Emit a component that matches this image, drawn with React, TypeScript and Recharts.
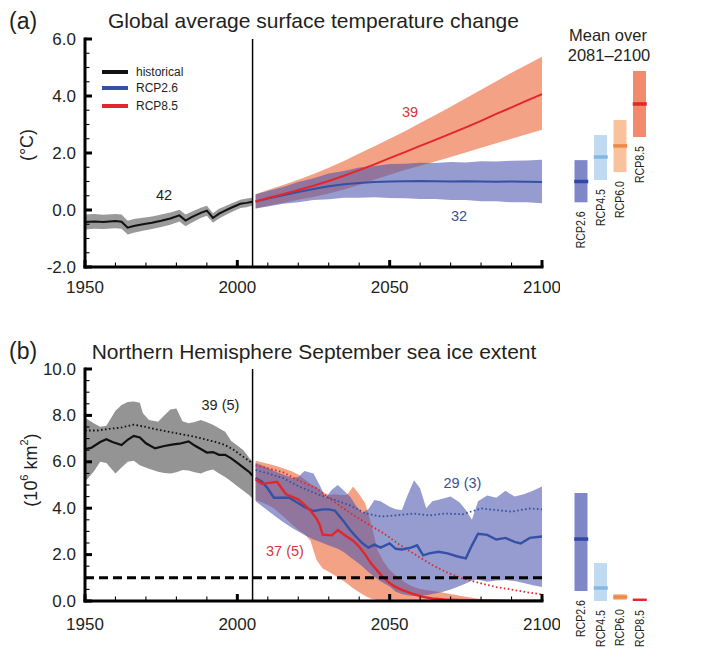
import React from 'react';
import {
  ComposedChart,
  Area,
  Line,
  Bar,
  Scatter,
  Cell,
  LabelList,
  XAxis,
  YAxis,
  ReferenceLine,
} from 'recharts';

const FONT = '"Liberation Sans", Arial, Helvetica, sans-serif';
const INK = '#231f20';

// ---- shared axes ----
const X_TICKS = [1950, 1960, 1970, 1980, 1990, 2000, 2010, 2020, 2030, 2040, 2050, 2060, 2070, 2080, 2090, 2100];
const X_MAJORS = [1950, 2000, 2050, 2100];
const A_Y_TICKS = [-2, -1.5, -1, -0.5, 0, 0.5, 1, 1.5, 2, 2.5, 3, 3.5, 4, 4.5, 5, 5.5, 6];
const A_Y_MAJORS = [-2, 0, 2, 4, 6];
const B_Y_TICKS = [0, 0.5, 1, 1.5, 2, 2.5, 3, 3.5, 4, 4.5, 5, 5.5, 6, 6.5, 7, 7.5, 8, 8.5, 9, 9.5, 10];
const B_Y_MAJORS = [0, 2, 4, 6, 8, 10];

// ---- (a) global average surface temperature change (°C) ----
const A_HIST_YEARS = [1950, 1953, 1956, 1960, 1962, 1964, 1966, 1969, 1972, 1975, 1978, 1981, 1983, 1985, 1988, 1990, 1992, 1994, 1996, 1998, 2001, 2003, 2005];
const A_HIST_MEAN = [-0.42, -0.4, -0.42, -0.39, -0.41, -0.62, -0.56, -0.5, -0.45, -0.38, -0.3, -0.19, -0.37, -0.25, -0.1, -0.02, -0.28, -0.13, -0.02, 0.08, 0.22, 0.25, 0.29];
const A_HIST_LO = [-0.68, -0.66, -0.67, -0.64, -0.66, -0.86, -0.8, -0.73, -0.67, -0.6, -0.52, -0.4, -0.57, -0.45, -0.28, -0.2, -0.45, -0.3, -0.18, -0.08, 0.07, 0.1, 0.16];
const A_HIST_HI = [-0.16, -0.14, -0.17, -0.14, -0.16, -0.38, -0.32, -0.27, -0.23, -0.16, -0.09, 0.01, -0.16, -0.06, 0.08, 0.15, -0.11, 0.04, 0.13, 0.23, 0.36, 0.4, 0.43];

const A_PROJ_YEARS = [2006, 2010, 2015, 2020, 2025, 2030, 2035, 2040, 2045, 2050, 2055, 2060, 2065, 2070, 2075, 2080, 2085, 2090, 2095, 2100];
const A26_MEAN = [0.3, 0.4, 0.52, 0.63, 0.74, 0.83, 0.9, 0.95, 0.98, 1.0, 1.01, 1.02, 1.01, 1.0, 1.01, 1.0, 0.99, 1.0, 0.99, 0.98];
const A26_LO = [0.05, 0.12, 0.22, 0.27, 0.35, 0.38, 0.43, 0.43, 0.45, 0.42, 0.41, 0.39, 0.39, 0.35, 0.35, 0.31, 0.31, 0.27, 0.27, 0.24];
const A26_HI = [0.55, 0.67, 0.81, 0.98, 1.11, 1.28, 1.37, 1.49, 1.54, 1.61, 1.62, 1.66, 1.65, 1.68, 1.67, 1.71, 1.7, 1.73, 1.74, 1.76];
const A85_MEAN = [0.3, 0.42, 0.55, 0.7, 0.85, 1.02, 1.2, 1.4, 1.6, 1.82, 2.03, 2.25, 2.46, 2.68, 2.9, 3.13, 3.37, 3.6, 3.84, 4.06];
const A85_LO = [0.05, 0.15, 0.25, 0.36, 0.46, 0.58, 0.72, 0.88, 1.06, 1.24, 1.4, 1.55, 1.7, 1.86, 2.02, 2.18, 2.34, 2.5, 2.66, 2.82];
const A85_HI = [0.55, 0.7, 0.88, 1.06, 1.26, 1.48, 1.72, 1.98, 2.24, 2.5, 2.76, 3.05, 3.33, 3.62, 3.92, 4.22, 4.52, 4.82, 5.1, 5.38];

// ---- (b) NH September sea ice extent (10^6 km2) ----
const B_HIST_YEARS = [1950, 1952, 1955, 1957, 1959, 1962, 1964, 1966, 1968, 1970, 1973, 1976, 1979, 1981, 1984, 1986, 1988, 1990, 1992, 1994, 1996, 1998, 2000, 2002, 2004, 2005];
const B_HIST_MEAN = [6.55, 6.6, 6.85, 6.97, 6.85, 6.72, 6.95, 7.12, 7.05, 6.8, 6.58, 6.68, 6.75, 6.78, 6.88, 6.7, 6.55, 6.4, 6.42, 6.3, 6.3, 6.15, 5.95, 5.75, 5.55, 5.4];
const B_HIST_DOT_YEARS = [1950, 1954, 1958, 1962, 1966, 1970, 1974, 1978, 1982, 1986, 1990, 1993, 1996, 1999, 2001, 2003, 2005];
const B_HIST_DOT = [7.35, 7.35, 7.42, 7.48, 7.6, 7.5, 7.38, 7.28, 7.18, 7.08, 6.95, 6.85, 6.72, 6.5, 6.3, 6.12, 5.93];
const B_HIST_BAND_YEARS = [1950, 1953, 1955, 1957, 1960, 1962, 1964, 1966, 1968, 1969, 1971, 1974, 1976, 1978, 1980, 1982, 1984, 1986, 1988, 1990, 1992, 1994, 1996, 1998, 2000, 2002, 2004, 2005];
const B_HIST_HI = [7.9, 7.65, 7.51, 7.55, 8.2, 8.45, 8.58, 8.6, 8.55, 8.09, 7.8, 7.73, 8.0, 8.25, 8.3, 7.75, 7.66, 7.72, 7.8, 7.7, 7.6, 7.45, 7.3, 6.9, 6.7, 6.5, 6.15, 6.0];
const B_HIST_LO = [5.14, 5.6, 6.0, 5.95, 5.5, 5.75, 6.0, 6.05, 5.85, 5.8, 5.7, 5.57, 5.52, 5.5, 5.55, 5.65, 5.62, 5.55, 5.5, 5.6, 5.67, 5.5, 5.35, 5.15, 4.95, 4.75, 4.55, 4.42];

const B26_YEARS = [2006, 2008, 2010, 2012, 2014, 2017, 2019, 2022, 2025, 2028, 2030, 2032, 2035, 2037, 2039, 2041, 2043, 2045, 2047, 2050, 2052, 2054, 2057, 2059, 2061, 2063, 2066, 2069, 2072, 2075, 2077, 2079, 2082, 2085, 2088, 2091, 2093, 2096, 2100];
const B26_MEAN = [5.3, 5.15, 4.85, 4.45, 4.45, 4.45, 4.3, 4.05, 3.88, 3.95, 3.95, 3.9, 3.42, 3.06, 2.77, 2.5, 2.3, 2.43, 2.3, 2.48, 2.25, 2.22, 2.3, 2.4, 1.97, 2.05, 2.12, 2.05, 1.93, 1.84, 2.4, 2.9, 2.85, 2.65, 2.72, 2.55, 2.48, 2.72, 2.78];
const B26_DOT_YEARS = [2006, 2010, 2015, 2020, 2026, 2031, 2037, 2042, 2047, 2052, 2058, 2063, 2068, 2074, 2080, 2085, 2090, 2096, 2100];
const B26_DOT = [5.65, 5.5, 5.3, 4.95, 4.62, 4.4, 4.12, 3.78, 3.64, 3.69, 3.77, 3.69, 3.77, 3.74, 3.99, 3.92, 3.85, 3.99, 3.95];
const B26_BAND_YEARS = [2006, 2009, 2012, 2015, 2018, 2020, 2022, 2025, 2027, 2029, 2031, 2033, 2035, 2037, 2039, 2041, 2043, 2045, 2047, 2050, 2052, 2054, 2056, 2058, 2060, 2062, 2064, 2067, 2070, 2073, 2075, 2077, 2079, 2082, 2085, 2088, 2091, 2094, 2097, 2100];
const B26_HI = [5.95, 5.8, 5.6, 5.45, 5.3, 5.35, 5.6, 5.5, 5.0, 4.45, 4.8, 5.0, 4.75, 4.5, 4.1, 3.8, 3.95, 4.35, 4.3, 4.06, 3.95, 3.92, 4.6, 5.2, 4.85, 4.0, 4.3, 4.4, 4.5, 4.25, 3.92, 3.5, 4.3, 4.55, 4.45, 4.75, 4.5, 4.6, 4.75, 4.93];
const B26_LO = [4.3, 4.0, 3.7, 3.4, 3.15, 3.0, 2.85, 2.65, 2.55, 2.45, 2.35, 2.25, 2.1, 1.9, 1.7, 1.5, 1.25, 1.05, 0.85, 0.62, 0.4, 0.3, 0.25, 0.22, 0.22, 0.25, 0.3, 0.38, 0.5, 0.65, 0.75, 0.88, 0.92, 0.83, 0.88, 0.9, 0.86, 0.78, 0.68, 0.6];

const B85_YEARS = [2006, 2008, 2010, 2013, 2016, 2020, 2022, 2024, 2026, 2027, 2028, 2031, 2033, 2036, 2038, 2040, 2042, 2044, 2046, 2048, 2050, 2052, 2054, 2056, 2058, 2061, 2064, 2068, 2072, 2078, 2085, 2092, 2100];
const B85_MEAN = [5.25, 5.05, 5.08, 5.14, 4.6, 4.38, 4.15, 3.9, 3.55, 3.3, 2.86, 2.83, 3.06, 2.77, 2.6, 2.34, 2.0, 1.6, 1.3, 1.0, 0.77, 0.6, 0.48, 0.38, 0.29, 0.18, 0.11, 0.07, 0.05, 0.03, 0.02, 0.01, 0.01];
const B85_DOT_YEARS = [2006, 2010, 2015, 2020, 2026, 2031, 2037, 2042, 2048, 2053, 2059, 2064, 2069, 2074, 2080, 2085, 2091, 2095, 2100];
const B85_DOT = [5.85, 5.72, 5.55, 5.2, 4.85, 4.35, 3.8, 3.38, 2.92, 2.45, 1.95, 1.55, 1.22, 0.97, 0.76, 0.6, 0.47, 0.38, 0.28];
const B85_BAND_YEARS = [2006, 2009, 2012, 2015, 2018, 2020, 2022, 2024, 2026, 2028, 2030, 2032, 2034, 2036, 2038, 2040, 2042, 2044, 2046, 2048, 2050, 2052, 2054, 2056, 2058, 2060, 2063, 2066, 2070, 2074, 2078, 2082, 2086, 2090, 2095, 2100];
const B85_HI = [6.05, 5.95, 5.85, 5.72, 5.58, 5.45, 5.25, 5.05, 4.9, 4.7, 4.57, 4.6, 4.57, 4.57, 4.93, 4.6, 4.2, 3.3, 2.2, 1.7, 1.34, 1.1, 0.9, 0.72, 0.6, 0.52, 0.45, 0.4, 0.3, 0.2, 0.12, 0.06, 0.03, 0.02, 0.01, 0.01];
const B85_LO = [4.35, 4.2, 4.0, 3.65, 3.3, 3.06, 2.9, 2.6, 1.77, 1.4, 1.26, 1.1, 0.95, 0.75, 0.55, 0.38, 0.22, 0.1, 0.04, 0, 0, 0, 0, 0, 0, 0, 0, 0, 0, 0, 0, 0, 0, 0, 0, 0];

// ---- mean over 2081–2100 ----
const SCENARIOS = ['RCP2.6', 'RCP4.5', 'RCP6.0', 'RCP8.5'];
const A_BOX_LO = [0.27, 1.05, 1.33, 2.56];
const A_BOX_HI = [1.75, 2.63, 3.16, 4.88];
const A_BOX_MEAN = [1.0, 1.86, 2.25, 3.72];
const B_BOX_LO = [0.43, 0.0, 0.04, 0.0];
const B_BOX_HI = [4.66, 1.64, 0.3, 0.06];
const B_BOX_MEAN = [2.67, 0.56, 0.17, 0.03];

const BOX_FILL = ['#7f87c8', '#c0daf2', '#f9c29c', '#f28a6c'];
const BOX_MEAN = ['#2c49a6', '#86b6e2', '#ee8a48', '#e1262c'];

const C = {
  black: '#111111',
  blue: '#3551a6',
  red: '#e3262c',
  gray: '#8e8e8e',
  blueBand: '#4a55ad',
  orangeBand: '#f07a52',
};

const rows = (years: number[], cols: Record<string, number[]>) =>
  years.map((year, i) => {
    const r: Record<string, any> = { year };
    Object.keys(cols).forEach((k) => (r[k] = cols[k][i]));
    return r;
  });
const bandRows = (years: number[], lo: number[], hi: number[]) =>
  years.map((year, i) => ({ year, band: [lo[i], hi[i]] }));

const aHist = rows(A_HIST_YEARS, { v: A_HIST_MEAN });
const aHistBand = bandRows(A_HIST_YEARS, A_HIST_LO, A_HIST_HI);
const a26 = rows(A_PROJ_YEARS, { v: A26_MEAN });
const a26Band = bandRows(A_PROJ_YEARS, A26_LO, A26_HI);
const a85 = rows(A_PROJ_YEARS, { v: A85_MEAN });
const a85Band = bandRows(A_PROJ_YEARS, A85_LO, A85_HI);

const bHist = rows(B_HIST_YEARS, { v: B_HIST_MEAN });
const bHistDot = rows(B_HIST_DOT_YEARS, { v: B_HIST_DOT });
const bHistBand = bandRows(B_HIST_BAND_YEARS, B_HIST_LO, B_HIST_HI);
const b26 = rows(B26_YEARS, { v: B26_MEAN });
const b26Dot = rows(B26_DOT_YEARS, { v: B26_DOT });
const b26Band = bandRows(B26_BAND_YEARS, B26_LO, B26_HI);
const b85 = rows(B85_YEARS, { v: B85_MEAN });
const b85Dot = rows(B85_DOT_YEARS, { v: B85_DOT });
const b85Band = bandRows(B85_BAND_YEARS, B85_LO, B85_HI);

const boxRows = (lo: number[], hi: number[], mean: number[]) =>
  SCENARIOS.map((name, i) => ({ name, box: [lo[i], hi[i]], mean: mean[i] }));

// ---- frame with inward ticks ----
type Side = 'left' | 'right' | 'top' | 'bottom';

const frameTick = (side: Side, majors: number[], gap = 0) => (props: any) => {
  const { x, y, payload } = props;
  const v: number = payload.value;
  const major = majors.some((m) => Math.abs(m - v) < 1e-6);
  const len = major ? 7 : 4.5;
  let x1 = x, x2 = x, y1 = y, y2 = y;
  if (side === 'left') x2 = x + len;
  if (side === 'right') x1 = x - len;
  if (side === 'top') y2 = y + len;
  if (side === 'bottom') y1 = y - len;
  return (
    <g>
      <line x1={x1} y1={y1} x2={x2} y2={y2} stroke="#000" strokeWidth={major ? 3 : 1.1} />
      {major && side === 'left' && (
        <text x={x - gap} y={y} textAnchor="end" dominantBaseline="central" fontSize={17} fontFamily={FONT} fill={INK}>
          {v.toFixed(1)}
        </text>
      )}
      {major && side === 'bottom' && (
        <text x={x} y={y + gap} textAnchor="middle" dominantBaseline="central" fontSize={17} fontFamily={FONT} fill={INK}>
          {v}
        </text>
      )}
    </g>
  );
};

const FRAME_LINE = { stroke: '#000', strokeWidth: 3, strokeLinecap: 'square' as const };

const frameAxes = (yDomain: [number, number], yTicks: number[], yMajors: number[], xHeight: number, xGap: number) => [
  <XAxis key="xb" xAxisId="b" type="number" dataKey="year" domain={[1950, 2100]} ticks={X_TICKS} interval={0}
    height={xHeight} tickSize={0} tickMargin={0} tickLine={false} axisLine={FRAME_LINE}
    tick={frameTick('bottom', X_MAJORS, xGap)} allowDataOverflow />,
  <XAxis key="xt" xAxisId="t" orientation="top" type="number" dataKey="year" domain={[1950, 2100]} ticks={X_TICKS}
    interval={0} height={0} tickSize={0} tickMargin={0} tickLine={false} axisLine={FRAME_LINE}
    tick={frameTick('top', X_MAJORS)} allowDataOverflow />,
  <YAxis key="yl" yAxisId="l" type="number" domain={yDomain} ticks={yTicks} interval={0} width={85}
    tickSize={0} tickMargin={0} tickLine={false} axisLine={FRAME_LINE} tick={frameTick('left', yMajors, 9)}
    allowDataOverflow />,
  <YAxis key="yr" yAxisId="r" orientation="right" type="number" domain={yDomain} ticks={yTicks} interval={0}
    width={0} tickSize={0} tickMargin={0} tickLine={false} axisLine={FRAME_LINE}
    tick={frameTick('right', yMajors)} allowDataOverflow />,
];

const band = (data: any[], fill: string, opacity: number) => (
  <Area xAxisId="b" yAxisId="l" data={data} dataKey="band" type="linear" stroke="none" fill={fill}
    fillOpacity={opacity} isAnimationActive={false} />
);
const line = (data: any[], stroke: string, width: number, dash?: string) => (
  <Line xAxisId="b" yAxisId="l" data={data} dataKey="v" type="linear" stroke={stroke} strokeWidth={width}
    strokeDasharray={dash} dot={false} activeDot={false} isAnimationActive={false} />
);

// ---- side boxes ----
const ScenarioLabel = (p: any) => {
  const x = p.x ?? p.viewBox?.x;
  const y = p.y ?? p.viewBox?.y;
  const w = p.width ?? p.viewBox?.width ?? 0;
  const h = p.height ?? p.viewBox?.height ?? 0;
  const cx = x + w / 2;
  const bottom = Math.max(y, y + h) + 9;
  return (
    <text x={cx} y={bottom} transform={`rotate(-90 ${cx} ${bottom})`} textAnchor="end" dominantBaseline="central"
      fontSize={13.5} fontFamily={FONT} fill={INK} textLength={37} lengthAdjust="spacingAndGlyphs">
      {p.value}
    </text>
  );
};

const MeanMark = (p: any) => {
  const i = SCENARIOS.indexOf(p.payload?.name);
  return <rect x={p.cx - 7} y={p.cy - 1.75} width={14} height={3.5} fill={BOX_MEAN[i]} />;
};

function SideBoxes({ data, domain, height, bottom }: { data: any[]; domain: [number, number]; height: number; bottom: number }) {
  return (
    <ComposedChart width={100} height={height} data={data} margin={{ top: 39, right: 10.5, bottom, left: 11.5 }}>
      <XAxis dataKey="name" type="category" hide />
      <YAxis type="number" domain={domain} hide allowDataOverflow />
      <Bar dataKey="box" barSize={13} isAnimationActive={false}>
        {data.map((r, i) => (
          <Cell key={r.name} fill={BOX_FILL[i]} />
        ))}
        <LabelList dataKey="name" content={<ScenarioLabel />} />
      </Bar>
      <Scatter dataKey="mean" shape={<MeanMark />} isAnimationActive={false} />
    </ComposedChart>
  );
}

const txt = { fontFamily: FONT, fill: INK } as const;

export default function App() {
  return (
    <div style={{ position: 'absolute', left: 0, top: 0, width: 725, height: 661, background: '#fff' }}>
      {/* panel (a) */}
      <div style={{ position: 'absolute', left: 0, top: 0 }}>
        <ComposedChart width={560} height={310} margin={{ top: 39, right: 18, bottom: 0, left: 0 }}>
          {band(aHistBand, '#9a9a9a', 1)}
          {band(a85Band, C.orangeBand, 0.7)}
          {band(a26Band, C.blueBand, 0.58)}
          {line(aHist, C.black, 2)}
          {line(a26, C.blue, 2)}
          {line(a85, C.red, 2)}
          <ReferenceLine xAxisId="b" yAxisId="l" x={2005} stroke="#000" strokeWidth={1.5} />
          {frameAxes([-2, 6], A_Y_TICKS, A_Y_MAJORS, 43, 20.5)}
        </ComposedChart>
      </div>
      <div style={{ position: 'absolute', left: 560, top: 0 }}>
        <SideBoxes data={boxRows(A_BOX_LO, A_BOX_HI, A_BOX_MEAN)} domain={[-2, 6]} height={300} bottom={33} />
      </div>

      {/* panel (b) */}
      <div style={{ position: 'absolute', left: 0, top: 330 }}>
        <ComposedChart width={560} height={315} margin={{ top: 39, right: 18, bottom: 0, left: 0 }}>
          {band(bHistBand, C.gray, 0.95)}
          {band(b85Band, C.orangeBand, 0.7)}
          {band(b26Band, C.blueBand, 0.58)}
          {line(bHist, C.black, 2.2)}
          {line(bHistDot, C.black, 1.8, '1.6 2.4')}
          {line(b26Dot, C.blue, 1.8, '1.6 2.4')}
          {line(b85Dot, C.red, 1.8, '1.6 2.4')}
          {line(b26, C.blue, 2.4)}
          {line(b85, C.red, 2.4)}
          <ReferenceLine xAxisId="b" yAxisId="l" y={1} stroke="#000" strokeWidth={3} strokeDasharray="9 5" />
          <ReferenceLine xAxisId="b" yAxisId="l" x={2005} stroke="#000" strokeWidth={1.5} />
          {frameAxes([0, 10], B_Y_TICKS, B_Y_MAJORS, 44, 23)}
        </ComposedChart>
      </div>
      <div style={{ position: 'absolute', left: 560, top: 330 }}>
        <SideBoxes data={boxRows(B_BOX_LO, B_BOX_HI, B_BOX_MEAN)} domain={[0, 10]} height={331} bottom={60} />
      </div>

      {/* titles, axis names, legend, counts */}
      <svg width={725} height={661} style={{ position: 'absolute', left: 0, top: 0, pointerEvents: 'none' }}>
        <text x={9} y={29} fontSize={23} {...txt}>(a)</text>
        <text x={313.5} y={28} fontSize={21} textAnchor="middle" {...txt}>Global average surface temperature change</text>
        <text x={608} y={40.5} fontSize={16.5} textAnchor="middle" {...txt}>Mean over</text>
        <text x={609} y={61} fontSize={16.5} textAnchor="middle" {...txt}>2081–2100</text>
        <text x={27} y={145} fontSize={18} textAnchor="middle" dominantBaseline="central" transform="rotate(-90 27 145)" {...txt}>(°C)</text>

        <line x1={102} x2={128} y1={72} y2={72} stroke={C.black} strokeWidth={4} />
        <line x1={102} x2={128} y1={88} y2={88} stroke={C.blue} strokeWidth={4} />
        <line x1={102} x2={128} y1={106} y2={106} stroke={C.red} strokeWidth={4} />
        <text x={136} y={72} fontSize={12} dominantBaseline="central" {...txt}>historical</text>
        <text x={136} y={88} fontSize={12} dominantBaseline="central" {...txt}>RCP2.6</text>
        <text x={136} y={106} fontSize={12} dominantBaseline="central" {...txt}>RCP8.5</text>

        <text x={164} y={195} fontSize={14.5} textAnchor="middle" dominantBaseline="central" {...txt}>42</text>
        <text x={410} y={112} fontSize={14.5} textAnchor="middle" dominantBaseline="central" fontFamily={FONT} fill="#d8343c">39</text>
        <text x={459} y={216} fontSize={14.5} textAnchor="middle" dominantBaseline="central" fontFamily={FONT} fill="#3b4f98">32</text>

        <text x={9} y={359} fontSize={23} {...txt}>(b)</text>
        <text x={314} y={359} fontSize={21} textAnchor="middle" {...txt}>Northern Hemisphere September sea ice extent</text>
        <text x={31} y={470} fontSize={18} textAnchor="middle" dominantBaseline="central" transform="rotate(-90 31 470)" {...txt}>
          (10<tspan dy={-7} fontSize={11}>6</tspan><tspan dy={7}> km</tspan><tspan dy={-7} fontSize={11}>2</tspan><tspan dy={7}>)</tspan>
        </text>

        <text x={220.5} y={405} fontSize={14.5} textAnchor="middle" dominantBaseline="central" {...txt}>39 (5)</text>
        <text x={462.5} y={483} fontSize={14.5} textAnchor="middle" dominantBaseline="central" fontFamily={FONT} fill="#3b4f98">29 (3)</text>
        <text x={285} y={551} fontSize={14.5} textAnchor="middle" dominantBaseline="central" fontFamily={FONT} fill="#d8343c">37 (5)</text>
      </svg>
    </div>
  );
}
